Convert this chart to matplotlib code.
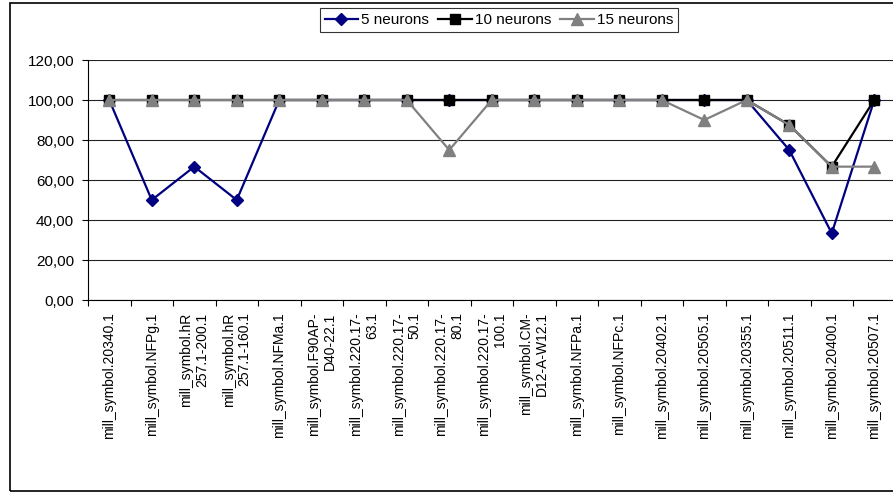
import matplotlib
matplotlib.use("Agg")
import matplotlib.pyplot as plt
from matplotlib.patches import Rectangle
from matplotlib.ticker import FuncFormatter

plt.rcParams['font.family'] = ['Liberation Sans', 'DejaVu Sans']

# categories (line breaks as in the original chart)
categories = [
    "mill_symbol.20340.1", "mill_symbol.NFPg.1", "mill_symbol.hR\n257.1-200.1",
    "mill_symbol.hR\n257.1-160.1", "mill_symbol.NFMa.1", "mill_symbol.F90AP-\nD40-22.1",
    "mill_symbol.220.17-\n63.1", "mill_symbol.220.17-\n50.1", "mill_symbol.220.17-\n80.1",
    "mill_symbol.220.17-\n100.1", "mill_symbol.CM-\nD12-A-W12.1", "mill_symbol.NFPa.1",
    "mill_symbol.NFPc.1", "mill_symbol.20402.1", "mill_symbol.20505.1",
    "mill_symbol.20355.1", "mill_symbol.20511.1", "mill_symbol.20400.1",
    "mill_symbol.20507.1",
]

# accuracy values (%)
n5 = [100, 50, 66.67, 50, 100, 100, 100, 100, 100, 100,
      100, 100, 100, 100, 100, 100, 75, 33.33, 100]
n10 = [100, 100, 100, 100, 100, 100, 100, 100, 100, 100,
       100, 100, 100, 100, 100, 100, 87.5, 66.67, 100]
n15 = [100, 100, 100, 100, 100, 100, 100, 100, 75, 100,
       100, 100, 100, 100, 90, 100, 87.5, 66.67, 66.67]

yticks = [0, 20, 40, 60, 80, 100, 120]

fig = plt.figure(figsize=(8.93, 4.94), dpi=100)

# outer chart frame (cut off on the right like the original)
fig.patches.append(Rectangle((10 / 893, 3 / 494), 900 / 893, 488 / 494,
                             transform=fig.transFigure, fill=False,
                             edgecolor='black', linewidth=1.2, zorder=0))

ax = fig.add_axes([88 / 893, 1 - 300 / 494, 807.5 / 893, 240 / 494])
x = list(range(len(categories)))

ax.plot(x, n5, color='#000080', marker='D', markersize=6, linewidth=1.6,
        label='5 neurons', zorder=3)
ax.plot(x, n10, color='black', marker='s', markersize=7, linewidth=1.6,
        label='10 neurons', zorder=4)
ax.plot(x, n15, color='#808080', marker='^', markersize=9, linewidth=1.6,
        label='15 neurons', zorder=5)

ax.set_xlim(-0.5, len(categories) - 0.5)
ax.set_ylim(0, 120)
ax.set_yticks(yticks)
ax.yaxis.set_major_formatter(FuncFormatter(lambda v, p: f"{v:.2f}".replace('.', ',')))
ax.yaxis.grid(True, color='#222222', linewidth=0.8)
ax.set_axisbelow(True)

ax.set_xticks(x)
ax.set_xticklabels(categories, rotation=90, ha='center', va='top',
                   multialignment='right', fontsize=10, linespacing=1.15)
ax.set_xticks([i - 0.5 for i in range(len(categories) + 1)], minor=True)
ax.tick_params(axis='x', which='major', length=0, pad=9)
ax.tick_params(axis='x', which='minor', length=4, direction='out', width=0.8)
ax.tick_params(axis='y', length=4, width=0.8, labelsize=11, pad=6)

for s in ['top', 'right']:
    ax.spines[s].set_visible(False)
ax.spines['left'].set_color('black')
ax.spines['bottom'].set_color('black')
ax.spines['left'].set_linewidth(0.8)
ax.spines['bottom'].set_linewidth(0.8)

leg = fig.legend(loc='center', bbox_to_anchor=(499 / 893, 1 - 20 / 494), ncol=3,
                 fontsize=11, frameon=True, fancybox=False, edgecolor='black',
                 handlelength=2.2, handletextpad=0.2, columnspacing=0.6,
                 borderpad=0.3, borderaxespad=0)
leg.get_frame().set_linewidth(0.8)

fig.savefig("out.png", dpi=100)
